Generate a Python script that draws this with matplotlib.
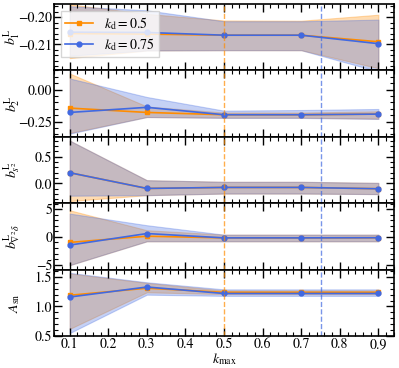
import matplotlib
matplotlib.use("Agg")
import matplotlib.pyplot as plt
from matplotlib.ticker import MultipleLocator, AutoMinorLocator

plt.rcParams["font.family"] = ["STIXGeneral", "DejaVu Serif"]
plt.rcParams["mathtext.fontset"] = "stix"
plt.rcParams["font.size"] = 10

kmax = [0.1, 0.3, 0.5, 0.7, 0.9]

# kd = 0.5 (orange)
b1_a = [-0.2060, -0.2062, -0.2066, -0.2066, -0.2090]
b1_a_lo = [-0.2150, -0.2122, -0.2121, -0.2121, -0.2187]
b1_a_hi = [-0.1953, -0.1988, -0.2012, -0.2013, -0.1991]
b2_a = [-0.145, -0.179, -0.197, -0.197, -0.192]
b2_a_lo = [-0.340, -0.215, -0.220, -0.220, -0.228]
b2_a_hi = [0.126, -0.132, -0.180, -0.180, -0.170]
bs2_a = [0.20, -0.094, -0.075, -0.075, -0.10]
bs2_a_lo = [-0.33, -0.22, -0.19, -0.19, -0.20]
bs2_a_hi = [0.80, 0.06, 0.03, 0.03, 0.01]
bd_a = [-1.0, 0.12, -0.18, -0.18, -0.15]
bd_a_lo = [-5.1, -0.8, -0.8, -0.8, -0.8]
bd_a_hi = [4.8, 1.2, 0.4, 0.4, 0.4]
asn_a = [1.19, 1.31, 1.24, 1.24, 1.24]
asn_a_lo = [0.62, 1.24, 1.21, 1.21, 1.21]
asn_a_hi = [1.56, 1.40, 1.27, 1.27, 1.27]

# kd = 0.75 (blue)
b1_b = [-0.2055, -0.2056, -0.2066, -0.2066, -0.2097]
b1_b_lo = [-0.2141, -0.2122, -0.2121, -0.2121, -0.2199]
b1_b_hi = [-0.1960, -0.1975, -0.2015, -0.2015, -0.2009]
b2_b = [-0.179, -0.139, -0.197, -0.197, -0.192]
b2_b_lo = [-0.345, -0.215, -0.222, -0.222, -0.230]
b2_b_hi = [0.087, -0.058, -0.165, -0.160, -0.152]
bs2_b = [0.20, -0.094, -0.075, -0.075, -0.10]
bs2_b_lo = [-0.23, -0.22, -0.19, -0.19, -0.20]
bs2_b_hi = [0.80, 0.06, 0.03, 0.03, 0.01]
bd_b = [-1.48, 0.6, -0.18, -0.18, -0.15]
bd_b_lo = [-5.1, -0.8, -0.8, -0.8, -0.8]
bd_b_hi = [4.2, 2.1, 0.4, 0.4, 0.4]
asn_b = [1.16, 1.33, 1.22, 1.22, 1.22]
asn_b_lo = [0.55, 1.20, 1.18, 1.18, 1.18]
asn_b_hi = [1.57, 1.41, 1.29, 1.29, 1.29]

panels = [
    (r"$b_1^{\rm L}$", b1_a, b1_a_lo, b1_a_hi, b1_b, b1_b_lo, b1_b_hi, (-0.2195, -0.1952), 0.01),
    (r"$b_2^{\rm L}$", b2_a, b2_a_lo, b2_a_hi, b2_b, b2_b_lo, b2_b_hi, (-0.37, 0.15), 0.25),
    (r"$b_{s^2}^{\rm L}$", bs2_a, bs2_a_lo, bs2_a_hi, bs2_b, bs2_b_lo, bs2_b_hi, (-0.37, 0.87), 0.5),
    (r"$b_{\nabla^2\delta}^{\rm L}$", bd_a, bd_a_lo, bd_a_hi, bd_b, bd_b_lo, bd_b_hi, (-5.9, 6.07), 5),
    (r"$A_{\rm sn}$", asn_a, asn_a_lo, asn_a_hi, asn_b, asn_b_lo, asn_b_hi, (0.5, 1.625), 0.5),
]

c_a = "darkorange"
c_b = "royalblue"

fig, axes = plt.subplots(5, 1, figsize=(3.99, 3.68), dpi=100, sharex=True)
fig.subplots_adjust(left=0.136, right=0.987, top=0.989, bottom=0.087, hspace=0)

for ax, (lab, ya, ya_lo, ya_hi, yb, yb_lo, yb_hi, ylim, step) in zip(axes, panels):
    ax.fill_between(kmax, ya_lo, ya_hi, color=c_a, alpha=0.3, lw=0.8)
    ax.fill_between(kmax, yb_lo, yb_hi, color=c_b, alpha=0.3, lw=0.8)
    ax.plot(kmax, ya, "s-", color=c_a, ms=3.5, lw=1.2, label=r"$k_{\rm d}=0.5$")
    ax.plot(kmax, yb, "o-", color=c_b, ms=3.5, lw=1.2, label=r"$k_{\rm d}=0.75$")
    ax.axvline(0.5, color=c_a, ls="--", lw=1, alpha=0.7)
    ax.axvline(0.75, color=c_b, ls="--", lw=1, alpha=0.7)
    ax.set_ylim(*ylim)
    ax.set_xlim(0.06, 0.94)
    ax.set_ylabel(lab)
    ax.yaxis.set_label_coords(-0.095, 0.5)
    ax.yaxis.set_major_locator(MultipleLocator(step))
    ax.yaxis.set_minor_locator(AutoMinorLocator())
    ax.xaxis.set_major_locator(MultipleLocator(0.1))
    ax.xaxis.set_minor_locator(MultipleLocator(0.02))
    ax.tick_params(which="both", direction="in", top=True, right=True, labelsize=10)
    ax.tick_params(which="major", length=6, width=1, pad=1.5)
    ax.tick_params(which="minor", length=3, width=0.8)
    for s in ax.spines.values():
        s.set_linewidth(1.2)

axes[0].legend(loc="upper left", fontsize=10, frameon=True, fancybox=False,
               handlelength=2.0, borderpad=0.3, labelspacing=0.3)
axes[-1].set_xlabel(r"$k_{\rm max}$", labelpad=0)

plt.savefig("out.png")
